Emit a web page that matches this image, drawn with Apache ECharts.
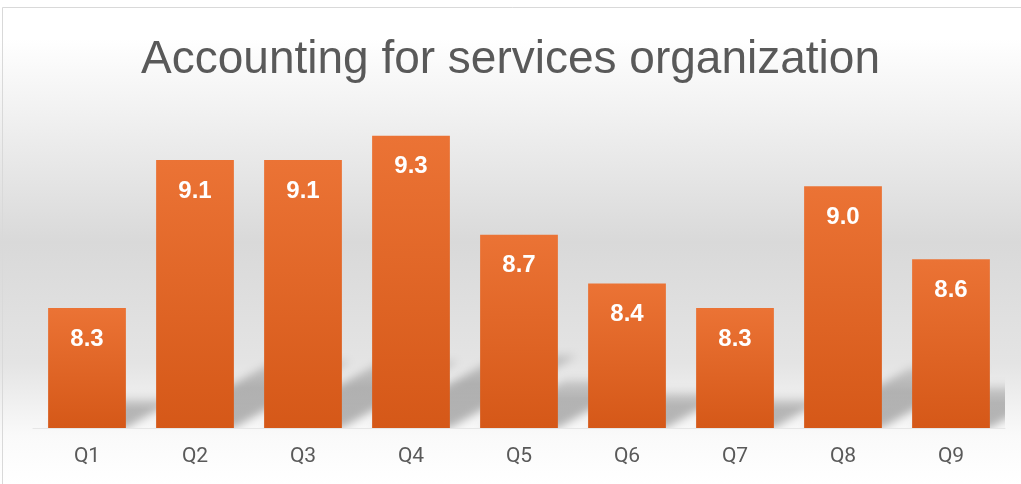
<!DOCTYPE html>
<html><head><meta charset="utf-8">
<script src="https://cdn.jsdelivr.net/npm/echarts@6/dist/echarts.min.js"></script>
<style>html,body{margin:0;padding:0;background:#fff}#c{width:1021px;height:484px}</style>
</head><body><div id="c"></div>
<script>
const title = 'Accounting for services organization';
const categories = ['Q1','Q2','Q3','Q4','Q5','Q6','Q7','Q8','Q9'];
const values = [8.29, 9.14, 9.14, 9.28, 8.71, 8.43, 8.29, 8.99, 8.57];
const axisMin = 7.6, axisMax = 9.6;

const shadowData = categories.map((c, i) => [i, values[i]]);
const OFF = 3000;

const chart = echarts.init(document.getElementById('c'));
chart.setOption({
  backgroundColor: {type:'linear',x:0,y:0,x2:0,y2:1,colorStops:[
    {offset:0,color:'#ffffff'},{offset:0.08,color:'#ffffff'},{offset:0.5,color:'#d9d9d9'},
    {offset:0.75,color:'#e4e4e4'},{offset:0.9,color:'#fafafa'},{offset:1,color:'#ffffff'}]},
  graphic: [{type:'rect',shape:{x:2.5,y:7.5,width:1040,height:520},style:{fill:'none',stroke:'#d9d9d9',lineWidth:1},silent:true,z:-1}],
  title: {text:title,left:'center',top:32,textStyle:{fontFamily:'Liberation Sans, Arial, sans-serif',fontSize:46,fontWeight:'normal',color:'#595959'}},
  grid: {left:33,right:16,top:80,bottom:56},
  xAxis: {type:'category',data:categories,axisTick:{show:false},
    axisLine:{lineStyle:{color:'#e6e6e6'}},
    axisLabel:{color:'#595959',fontSize:21,fontFamily:'Roboto, sans-serif',margin:18}},
  yAxis: {type:'value',min:axisMin,max:axisMax,show:false,splitLine:{show:false}},
  series: [
    {type:'custom',z:1,silent:true,data:shadowData,clip:true,
      encode:{x:0,y:1},
      renderItem:function(params,api){
        const i=api.value(0), v=api.value(1);
        const top=api.coord([i,v]); const base=api.coord([i,axisMin]);
        const w=api.size([1,0])[0]*0.72;
        const h=(base[1]-top[1])*0.25; const dx=h*1.75;
        const x0=base[0]-w/2-OFF, x1=base[0]+w/2-OFF, yb=base[1];
        return {type:'polygon',shape:{points:[[x0,yb],[x1,yb],[x1+dx,yb-h],[x0+dx,yb-h]]},
          style:{fill:{type:'linear',x:0,y:1,x2:0,y2:0,colorStops:[{offset:0,color:'rgba(0,0,0,1)'},{offset:0.6,color:'rgba(0,0,0,0.9)'},{offset:1,color:'rgba(0,0,0,0.5)'}]},
            shadowBlur:9,shadowColor:'rgba(0,0,0,0.28)',shadowOffsetX:OFF,shadowOffsetY:0}};
      }},
    {type:'bar',z:2,data:values,barCategoryGap:'28%',
      itemStyle:{color:{type:'linear',x:0,y:0,x2:0,y2:1,colorStops:[{offset:0,color:'#eb7335'},{offset:1,color:'#d55818'}]}},
      label:{show:true,position:'insideTop',distance:19,color:'#ffffff',fontSize:24,fontWeight:'bold',
        fontFamily:'Liberation Sans, Arial, sans-serif',formatter:p=>p.value.toFixed(1)}}
  ]
});
</script></body></html>
